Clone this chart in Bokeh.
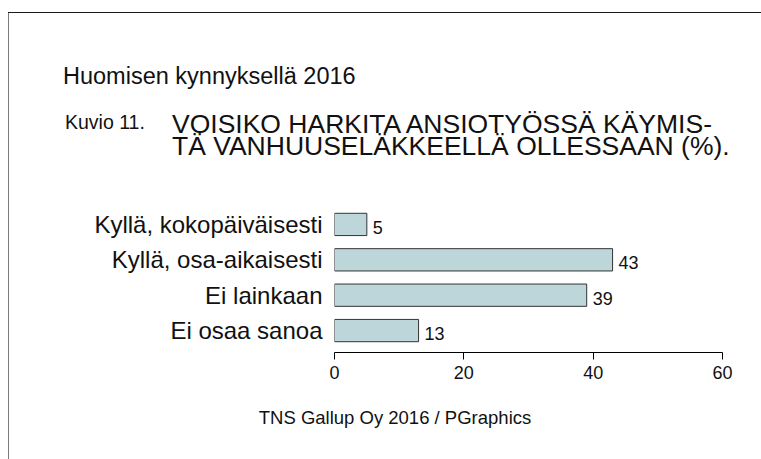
from bokeh.plotting import figure
from bokeh.layouts import column
from bokeh.models import FactorRange, Range1d, FixedTicker, ColumnDataSource, Div
from bokeh.core.properties import value
from bokeh.embed import file_html
from bokeh.resources import INLINE

categories = ["Kyllä, kokopäiväisesti", "Kyllä, osa-aikaisesti", "Ei lainkaan", "Ei osaa sanoa"]
values = [5, 43, 39, 13]
x_ticks = [0, 20, 40, 60]
header = "Huomisen kynnyksellä 2016"
fig_no = "Kuvio 11."
title_lines = ["VOISIKO HARKITA ANSIOTYÖSSÄ KÄYMIS-", "TÄ VANHUUSELÄKKEELLÄ OLLESSAAN (%)."]
footer = "TNS Gallup Oy 2016 / PGraphics"

FONT = "Liberation Sans"
TXT = "#111111"
OX, OY = 9, 13          # content origin on the page (after margin + border)
W = 761 - OX            # 752
TOP_END, MID_END = 183, 392   # page y where header / bars blocks end
H_TOP = TOP_END - OY
H_MID = MID_END - TOP_END
H_FOOT = 459 - MID_END
FL, FR, FT, FB = 334, 722, 202, 352  # bar frame edges on the page


def span(s, px, baseline, oy, size, center=False, lh=1.0):
    top = baseline + 1 - (lh / 2 + 0.3465) * size - oy
    left = px - OX
    shift = "transform:translateX(-50%);" if center else ""
    return (f'<div style="position:absolute;left:{left:.1f}px;top:{top:.1f}px;{shift}'
            f"font-family:'{FONT}';font-size:{size}px;line-height:{lh};color:{TXT};"
            f'white-space:nowrap;margin:0;padding:0;">{s}</div>')


def block(parts, h):
    html = (f'<div style="position:relative;width:{W}px;height:{h}px;margin:0;padding:0;'
            f'overflow:visible;">' + "".join(parts) + "</div>")
    return Div(text=html, width=W, height=h, margin=0,
               styles={"margin": "0", "padding": "0"})


top_rule = ('<div style="position:absolute;left:-1px;top:-1px;width:753px;height:1px;'
            'background:#1a1a1a;margin:0;padding:0;"></div>')

top = block([
    top_rule,
    span(header, 63, 84, OY, 23.5),
    span(fig_no, 65, 128, OY, 19.5),
    span(title_lines[0], 172, 133, OY, 26.5, lh=0.8),
    span(title_lines[1], 172, 155, OY, 26.5, lh=0.8),
], H_TOP)

# bar chart block
p = figure(width=W, height=H_MID, output_backend="svg", toolbar_location=None,
           y_range=FactorRange(factors=categories[::-1], range_padding=0.12,
                               range_padding_units="absolute"),
           x_range=Range1d(0, 60),
           min_border_left=FL - OX, min_border_right=W - (FR - OX),
           min_border_top=FT - TOP_END, min_border_bottom=MID_END - FB)
p.outline_line_color = None
p.grid.grid_line_color = None
p.background_fill_color = "white"
p.border_fill_color = "white"

src = ColumnDataSource(dict(cat=categories, val=values, lab=[str(v) for v in values]))
p.hbar(y="cat", left=0, right="val", height=0.63, source=src,
       fill_color="#bdd6da", line_color="#333333", line_width=1)
p.text(x="val", y="cat", text="lab", source=src, x_offset=6, y_offset=3,
       text_baseline="middle", text_align="left", text_font=value(FONT),
       text_font_size="18px", text_color=TXT)

xa = p.xaxis[0]
xa.ticker = FixedTicker(ticks=x_ticks)
xa.minor_tick_line_color = None
xa.major_tick_in = 0
xa.major_tick_out = 7
xa.axis_line_color = "black"
xa.major_tick_line_color = "black"
xa.major_label_text_font = FONT
xa.major_label_text_font_size = "18px"
xa.major_label_text_color = TXT
xa.major_label_standoff = 6

ya = p.yaxis[0]
ya.axis_line_color = None
ya.major_tick_line_color = None
ya.minor_tick_line_color = None
ya.major_tick_in = 0
ya.major_tick_out = 0
ya.major_label_standoff = 12
ya.major_label_text_font = FONT
ya.major_label_text_font_size = "24px"
ya.major_label_text_color = TXT

foot = block([span(footer, 395, 424, MID_END, 18.5, center=True)], H_FOOT)

layout = column(top, p, foot, spacing=0,
                styles={"margin-left": "8px", "margin-top": "13px",
                        "border-left": "1px solid #7a7a7a"})

open("out.html", "w").write(file_html(layout, INLINE))
